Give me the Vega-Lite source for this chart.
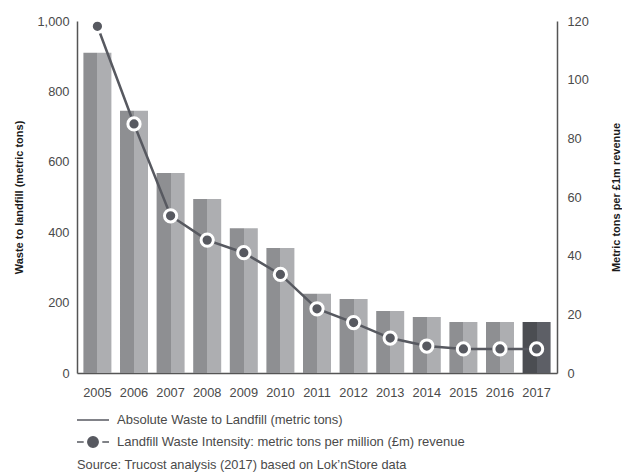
{
  "$schema": "https://vega.github.io/schema/vega-lite/v6.json",
  "width": 480,
  "height": 352,
  "autosize": {"type": "none"},
  "padding": {"left": 77, "top": 21, "right": 65, "bottom": 100},
  "background": "white",
  "config": {
    "view": {"stroke": null},
    "font": "Liberation Sans",
    "axis": {
      "grid": false,
      "ticks": false,
      "domainColor": "#555555",
      "domainWidth": 1.5,
      "labelFont": "Liberation Sans",
      "labelFontSize": 12.8,
      "labelColor": "#4a4a4a",
      "titleFont": "Liberation Sans",
      "titleFontSize": 11,
      "titleFontWeight": "bold",
      "titleColor": "#1a1a1a"
    },
    "title": {"font": "Liberation Sans", "fontSize": 12.8, "fontWeight": "normal", "color": "#4a4a4a"}
  },
  "title": {
    "text": "Source: Trucost analysis (2017) based on Lok\u2019nStore data",
    "orient": "bottom",
    "anchor": "start",
    "frame": "group",
    "offset": 8
  },
  "data": {
    "values": [
      {"year": 2005, "waste": 910, "intensity": 118.2},
      {"year": 2006, "waste": 745, "intensity": 84.9},
      {"year": 2007, "waste": 568, "intensity": 53.6},
      {"year": 2008, "waste": 494, "intensity": 45.3},
      {"year": 2009, "waste": 411, "intensity": 41.0},
      {"year": 2010, "waste": 355, "intensity": 33.6},
      {"year": 2011, "waste": 225, "intensity": 21.9},
      {"year": 2012, "waste": 210, "intensity": 17.2},
      {"year": 2013, "waste": 176, "intensity": 11.9},
      {"year": 2014, "waste": 159, "intensity": 9.2},
      {"year": 2015, "waste": 145, "intensity": 8.2},
      {"year": 2016, "waste": 145, "intensity": 8.2},
      {"year": 2017, "waste": 145, "intensity": 8.2}
    ]
  },
  "encoding": {
    "x": {
      "field": "year",
      "type": "ordinal",
      "scale": {"paddingInner": 0.235, "paddingOuter": 0.175},
      "axis": {"title": null, "labelAngle": 0, "labelPadding": 13}
    }
  },
  "layer": [
    {
      "mark": {"type": "bar"},
      "encoding": {
        "y": {
          "field": "waste",
          "type": "quantitative",
          "scale": {"domain": [0, 1000]},
          "axis": {
            "title": "Waste to landfill (metric tons)",
            "values": [0, 200, 400, 600, 800, 1000],
            "format": ",d",
            "labelPadding": 8,
            "titlePadding": 12
          }
        },
        "color": {
          "condition": {
            "test": "datum.year === 2017",
            "value": {
              "gradient": "linear", "x1": 0, "x2": 1, "y1": 0, "y2": 0,
              "stops": [
                {"offset": 0, "color": "#4b4d52"},
                {"offset": 0.5, "color": "#4b4d52"},
                {"offset": 0.5, "color": "#5d5f66"},
                {"offset": 1, "color": "#5d5f66"}
              ]
            }
          },
          "value": {
            "gradient": "linear", "x1": 0, "x2": 1, "y1": 0, "y2": 0,
            "stops": [
              {"offset": 0, "color": "#8e8f92"},
              {"offset": 0.5, "color": "#8e8f92"},
              {"offset": 0.5, "color": "#adaeb1"},
              {"offset": 1, "color": "#adaeb1"}
            ]
          }
        }
      }
    },
    {
      "encoding": {
        "y": {
          "field": "intensity",
          "type": "quantitative",
          "scale": {"domain": [0, 120]},
          "axis": {
            "orient": "right",
            "title": "Metric tons per \u00a31m revenue",
            "titleAngle": 270,
            "values": [0, 20, 40, 60, 80, 100, 120],
            "labelPadding": 10,
            "titlePadding": 33
          }
        }
      },
      "layer": [
        {
          "mark": {"type": "line", "color": "#575960", "strokeWidth": 2.5},
          "encoding": {}
        },
        {
          "mark": {"type": "point", "filled": true, "shape": "circle", "size": 150, "color": "#575960", "stroke": "white", "strokeWidth": 3, "opacity": 1},
          "encoding": {}
        },
        {
          "mark": {"type": "point", "filled": true, "color": "#575960", "stroke": "#575960", "strokeWidth": 2, "opacity": 0},
          "encoding": {
            "shape": {
              "datum": "Absolute Waste to Landfill (metric tons)",
              "scale": {
                "domain": [
                  "Absolute Waste to Landfill (metric tons)",
                  "Landfill Waste Intensity: metric tons per million (\u00a3m) revenue"
                ],
                "range": [
                  "M-1.6,0H1.6",
                  "M-1.6,0H-0.93M0.93,0H1.6M-0.52,0A0.52,0.52,0,1,0,0.52,0A0.52,0.52,0,1,0,-0.52,0Z"
                ]
              },
              "legend": {
                "title": null,
                "orient": "none",
                "legendX": 5,
                "legendY": 388,
                "direction": "vertical",
                "symbolSize": 400,
                "labelFont": "Liberation Sans",
                "labelFontSize": 13,
                "labelColor": "#4a4a4a",
                "labelLimit": 520,
                "labelOffset": 13,
                "rowPadding": 4,
                "encode": {
                  "symbols": {
                    "update": {
                      "opacity": {"value": 1},
                      "fill": {"value": "#575960"},
                      "stroke": {"value": "#575960"},
                      "strokeWidth": {"value": 2}
                    }
                  }
                }
              }
            }
          }
        }
      ]
    }
  ],
  "resolve": {"scale": {"y": "independent"}}
}
